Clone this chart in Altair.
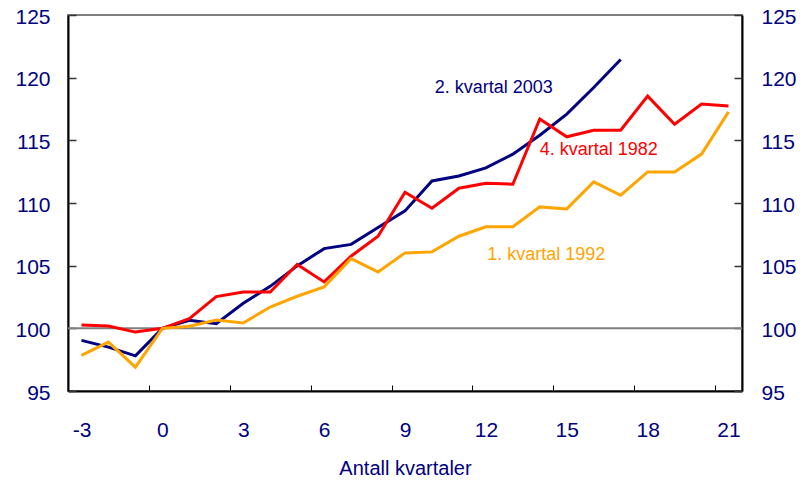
import altair as alt
import pandas as pd

# ---------------- data ----------------
quarters = list(range(-3, 22))

s2003 = [99.04, 98.5, 97.8, 100.0, 100.64, 100.37, 102.0, 103.35, 104.98, 106.36,
         106.7, 108.04, 109.37, 111.76, 112.16, 112.8, 113.9, 115.41, 117.09, 119.22,
         121.45]
s1982 = [100.27, 100.19, 99.7, 100.0, 100.77, 102.53, 102.9, 102.9, 105.1, 103.7,
         105.75, 107.35, 110.86, 109.58, 111.18, 111.58, 111.5, 116.7, 115.28, 115.81,
         115.81, 118.53, 116.29, 117.89, 117.73]
s1992 = [97.84, 98.9, 96.9, 100.0, 100.16, 100.67, 100.43, 101.7, 102.56, 103.3,
         105.56, 104.5, 106.02, 106.1, 107.35, 108.1, 108.1, 109.69, 109.53, 111.68,
         110.62, 112.48, 112.48, 113.9, 117.27]

series_names = ["2. kvartal 2003", "4. kvartal 1982", "1. kvartal 1992"]
series_colors = ["#000080", "#ff0000", "#ffa500"]

label_q = [10.1, 14.0, 12.05]
label_v = [119.2, 114.25, 105.85]

baseline_value = [100]

x_labels = [-3, 0, 3, 6, 9, 12, 15, 18, 21]
x_ticks = [-0.5, 2.5, 5.5, 8.5, 11.5, 14.5, 17.5, 20.5]
y_ticks = [95, 100, 105, 110, 115, 120, 125]

rows = []
for name, vals in zip(series_names, [s2003, s1982, s1992]):
    for q, v in zip(quarters, vals):
        rows.append({"q": q, "v": v, "s": name})
df = pd.DataFrame(rows)
lab = pd.DataFrame({"q": label_q, "v": label_v, "s": series_names})
base_df = pd.DataFrame({"v": baseline_value})

FONT = "Liberation Sans"
NAVY = "#000080"

xscale = alt.Scale(domain=[-3.5, 21.5], nice=False, zero=False)
yscale = alt.Scale(domain=[95, 125], nice=False, zero=False)
color = alt.Color("s:N", scale=alt.Scale(domain=series_names, range=series_colors), legend=None)

axis_x_labels = alt.Axis(values=x_labels, tickSize=0, grid=False, domain=True,
                         domainColor="black", domainWidth=2, labelFont=FONT,
                         labelFontSize=21, labelColor=NAVY, labelPadding=28,
                         labelExpr="'' + datum.value",
                         title="Antall kvartaler", titleFont=FONT, titleFontSize=20,
                         titleFontWeight="normal", titleColor=NAVY, titlePadding=18,
                         orient="bottom")
axis_x_ticks = alt.Axis(values=x_ticks, tickSize=6, tickColor="black", tickWidth=1,
                        labels=False, domain=False, grid=False, title=None,
                        orient="bottom", offset=-6)
axis_y_left = alt.Axis(values=y_ticks, tickSize=0, grid=False, domain=True,
                       domainColor="black", domainWidth=2, labelFont=FONT,
                       labelFontSize=21, labelColor=NAVY, labelPadding=18,
                       labelOffset=2, title=None, orient="left")
axis_y_left_ticks = alt.Axis(values=y_ticks, tickSize=8, tickColor="#333333",
                             tickWidth=1.5, labels=False, domain=False, grid=False,
                             title=None, orient="left", offset=-8)
axis_y_right = alt.Axis(values=y_ticks, tickSize=0, grid=False, domain=True,
                        domainColor="black", domainWidth=2, labelFont=FONT,
                        labelFontSize=21, labelColor=NAVY, labelPadding=19,
                        labelOffset=2, title=None, orient="right")
axis_y_right_ticks = alt.Axis(values=y_ticks, tickSize=8, tickColor="#333333",
                              tickWidth=1.5, labels=False, domain=False, grid=False,
                              title=None, orient="right", offset=-8)

rule = alt.Chart(base_df).mark_rule(color="#808080", strokeWidth=2).encode(
    y=alt.Y("v:Q", scale=yscale, axis=None),
    x=alt.value(0),
    x2=alt.value(674),
)

lines = alt.Chart(df).mark_line(strokeWidth=3).encode(
    x=alt.X("q:Q", scale=xscale, axis=axis_x_labels),
    y=alt.Y("v:Q", scale=yscale, axis=axis_y_left),
    color=color,
)

ax2 = alt.Chart(df).mark_line(opacity=0).encode(
    x=alt.X("q:Q", scale=xscale, axis=axis_x_ticks),
    y=alt.Y("v:Q", scale=yscale, axis=axis_y_left_ticks),
    detail="s:N",
)
ax3 = alt.Chart(df).mark_line(opacity=0).encode(
    x=alt.X("q:Q", scale=xscale, axis=None),
    y=alt.Y("v:Q", scale=yscale, axis=axis_y_right),
    detail="s:N",
)
ax4 = alt.Chart(df).mark_line(opacity=0).encode(
    x=alt.X("q:Q", scale=xscale, axis=None),
    y=alt.Y("v:Q", scale=yscale, axis=axis_y_right_ticks),
    detail="s:N",
)

texts = alt.Chart(lab).mark_text(align="left", baseline="middle", font=FONT,
                                 fontSize=18).encode(
    x=alt.X("q:Q", scale=xscale, axis=None),
    y=alt.Y("v:Q", scale=yscale, axis=None),
    text="s:N",
    color=color,
)

chart = alt.layer(rule, lines, ax2, ax3, ax4, texts).resolve_axis(
    x="independent", y="independent"
).properties(
    width=674, height=376,
    autosize=alt.AutoSizeParams(type="none"),
    padding={"left": 60, "top": 7, "right": 54, "bottom": 86},
).configure_view(stroke="#808080", strokeWidth=2)

chart.save("out.html", embed_options={"renderer": "svg", "actions": False})
